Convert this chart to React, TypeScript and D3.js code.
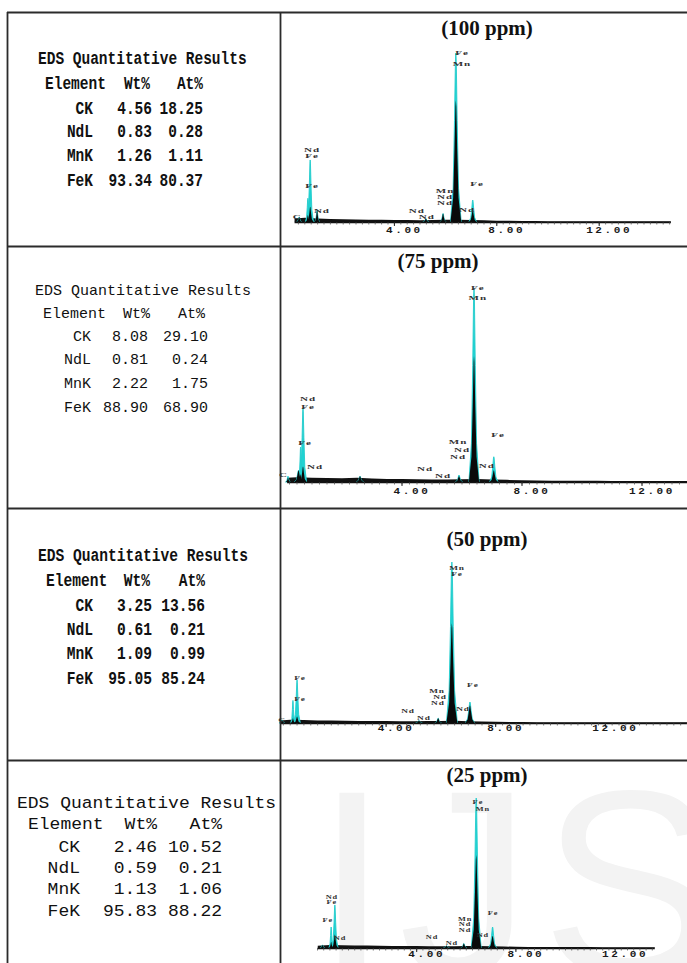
import React from "react";
import * as d3 from "d3";

// ---------- data ----------
const concentrations = ["(100 ppm)", "(75 ppm)", "(50 ppm)", "(25 ppm)"];
const elements = ["CK", "NdL", "MnK", "FeK"];
const wt100 = [4.56, 0.83, 1.26, 93.34];
const at100 = [18.25, 0.28, 1.11, 80.37];
const wt75 = [8.08, 0.81, 2.22, 88.9];
const at75 = [29.1, 0.24, 1.75, 68.9];
const wt50 = [3.25, 0.61, 1.09, 95.05];
const at50 = [13.56, 0.21, 0.99, 85.24];
const wt25 = [2.46, 0.59, 1.13, 95.83];
const at25 = [10.52, 0.21, 1.06, 88.22];
const tickValues = [4, 8, 12];
const tickLabels = ["4.00", "8.00", "12.00"];

// peaks: energy (keV), cyan height, black height (% of Fe Ka), half width (keV)
const peaks100 = [
  { e: 0.28, h: 3, hb: 3, w: 0.1 },
  { e: 0.62, h: 14, hb: 4, w: 0.1 },
  { e: 0.71, h: 36.7, hb: 9, w: 0.13 },
  { e: 0.98, h: 7, hb: 7, w: 0.1 },
  { e: 5.23, h: 2, hb: 2, w: 0.12 },
  { e: 5.9, h: 5, hb: 5, w: 0.12 },
  { e: 6.4, h: 100, hb: 72, w: 0.21 },
  { e: 7.06, h: 13, hb: 7, w: 0.15 },
];
const peaks75 = [
  { e: 0.2, h: 3, hb: 2, w: 0.08 },
  { e: 0.55, h: 6, hb: 6, w: 0.14 },
  { e: 0.7, h: 38, hb: 8, w: 0.12 },
  { e: 0.62, h: 18, hb: 4, w: 0.08 },
  { e: 2.6, h: 3, hb: 3, w: 0.12 },
  { e: 5.9, h: 3.6, hb: 3, w: 0.12 },
  { e: 6.4, h: 100, hb: 65, w: 0.17 },
  { e: 7.06, h: 13, hb: 6, w: 0.14 },
];
const peaks50 = [
  { e: 0.2, h: 2, hb: 2, w: 0.1 },
  { e: 0.6, h: 14, hb: 3, w: 0.08 },
  { e: 0.75, h: 26.7, hb: 4, w: 0.12 },
  { e: 5.2, h: 1.5, hb: 1.5, w: 0.12 },
  { e: 5.9, h: 3, hb: 3, w: 0.12 },
  { e: 6.4, h: 100, hb: 62, w: 0.2 },
  { e: 7.06, h: 13, hb: 11, w: 0.17 },
];
const peaks25 = [
  { e: 0.2, h: 2, hb: 2, w: 0.1 },
  { e: 0.55, h: 14, hb: 4, w: 0.09 },
  { e: 0.7, h: 28.7, hb: 9, w: 0.13 },
  { e: 5.2, h: 1.5, hb: 1.5, w: 0.12 },
  { e: 5.9, h: 3, hb: 3, w: 0.12 },
  { e: 6.4, h: 100, hb: 62, w: 0.2 },
  { e: 7.06, h: 14, hb: 8, w: 0.16 },
];

// background continuum, every 0.5 keV from 0 to 15 keV (% of Fe Ka)
const bg100 = [2, 2.5, 2, 1.8, 1.6, 1.5, 1.4, 1.3, 1.2, 1.2, 1.1, 1.2, 1.3, 1.4, 1.2, 1, 0.8, 0.7, 0.6, 0.6, 0.5, 0.5, 0.5, 0.5, 0.5, 0.4, 0.4, 0.4, 0.4, 0.4, 0.4];
const bg75 = [2, 2.5, 2.2, 2, 1.9, 2.2, 1.8, 1.6, 1.5, 1.4, 1.3, 1.3, 1.4, 1.5, 1.3, 1.1, 0.9, 0.8, 0.7, 0.6, 0.6, 0.6, 0.5, 0.5, 0.5, 0.5, 0.5, 0.5, 0.4, 0.4, 0.4];
const bg50 = [1.5, 2, 1.8, 1.6, 1.5, 1.4, 1.3, 1.2, 1.2, 1.1, 1.1, 1.2, 1.3, 1.4, 1.1, 0.9, 0.7, 0.6, 0.6, 0.5, 0.5, 0.5, 0.5, 0.4, 0.4, 0.4, 0.4, 0.4, 0.4, 0.4, 0.4];
const bg25 = [1.5, 2, 1.8, 1.7, 1.6, 1.5, 1.4, 1.3, 1.3, 1.2, 1.2, 1.2, 1.3, 1.4, 1.2, 1, 0.8, 0.7, 0.7, 0.6, 0.6, 0.6, 0.6, 0.5, 0.5, 0.5, 0.5, 0.5, 0.5, 0.5, 0.5];

// peak labels: text, energy, height (% of Fe Ka)
const labels100 = [
  { t: "Fe", e: 6.64, v: 100 }, { t: "Mn", e: 6.64, v: 93.5 },
  { t: "Nd", e: 0.78, v: 42.6 }, { t: "Fe", e: 0.78, v: 39 },
  { t: "Fe", e: 0.78, v: 21.3 }, { t: "Nd", e: 1.17, v: 6.5 },
  { t: "C", e: 0.2, v: 3 }, { t: "Nd", e: 4.88, v: 6.5 }, { t: "Nd", e: 5.27, v: 3 },
  { t: "Mn", e: 5.98, v: 18.3 }, { t: "Nd", e: 5.98, v: 14.8 }, { t: "Nd", e: 5.98, v: 11.2 },
  { t: "Fe", e: 7.23, v: 22.5 }, { t: "Nd", e: 6.84, v: 7.1 },
];
const labels75 = [
  { t: "Fe", e: 6.53, v: 100 }, { t: "Mn", e: 6.53, v: 94.8 },
  { t: "Nd", e: 0.87, v: 42.8 }, { t: "Fe", e: 0.87, v: 38.7 },
  { t: "Fe", e: 0.77, v: 20.1 }, { t: "Nd", e: 1.1, v: 7.7 },
  { t: "Mn", e: 5.87, v: 20.6 }, { t: "Nd", e: 6.0, v: 16.5 }, { t: "Nd", e: 5.87, v: 12.9 },
  { t: "Fe", e: 7.2, v: 24.2 }, { t: "Nd", e: 6.83, v: 8.2 },
  { t: "Nd", e: 4.77, v: 6.7 }, { t: "Nd", e: 5.37, v: 3.1 }, { t: "C", e: 0.05, v: 3.6 },
];
const labels50 = [
  { t: "Mn", e: 6.59, v: 96.3 }, { t: "Fe", e: 6.59, v: 92.5 },
  { t: "Fe", e: 0.86, v: 28 }, { t: "Fe", e: 0.86, v: 14.9 },
  { t: "Mn", e: 5.86, v: 19.9 }, { t: "Nd", e: 5.97, v: 16.1 }, { t: "Nd", e: 5.89, v: 12.4 },
  { t: "Fe", e: 7.17, v: 23.6 }, { t: "Nd", e: 6.81, v: 8.7 },
  { t: "Nd", e: 4.8, v: 7.5 }, { t: "Nd", e: 5.38, v: 3.1 }, { t: "C", e: 0.2, v: 1.9 },
];
const labels25 = [
  { t: "Fe", e: 6.47, v: 97.3 }, { t: "Mn", e: 6.67, v: 92.7 },
  { t: "Nd", e: 0.58, v: 34 }, { t: "Fe", e: 0.58, v: 30.7 },
  { t: "Fe", e: 0.42, v: 18.7 }, { t: "Nd", e: 0.91, v: 6.7 },
  { t: "Mn", e: 5.95, v: 19.3 }, { t: "Nd", e: 5.95, v: 16 }, { t: "Nd", e: 5.95, v: 12 },
  { t: "Fe", e: 7.08, v: 23.3 }, { t: "Nd", e: 6.67, v: 8.7 },
  { t: "Nd", e: 4.62, v: 7.3 }, { t: "Nd", e: 5.42, v: 3.3 },
];

// ---------- layout ----------
const W = 687;
const H = 963;
const GX0 = 7;
const GX1 = 280;
const rowLines = [12, 246, 508, 760];
const MONO = "'Courier New', Courier, 'Nimbus Mono PS', 'Nimbus Mono L', FreeMono, 'Liberation Mono', monospace";

const spectra = [
  { peaks: peaks100, bg: bg100, labels: labels100, x0: 292, k: 25.6, from: 0.1, to: 14.8, base: 222, top: 53, titleX: 487, titleY: 35, tickY: 233, fs: 6.5, sx: 1.7 },
  { peaks: peaks75, bg: bg75, labels: labels75, x0: 282, k: 30, from: 0.17, to: 13.5, base: 482, top: 288, titleX: 438, titleY: 268, tickY: 494, fs: 6.5, sx: 1.7 },
  { peaks: peaks50, bg: bg50, labels: labels50, x0: 276.5, k: 27.4, from: 0.13, to: 14.98, base: 723, top: 562, titleX: 487, titleY: 546, tickY: 731, fs: 5.8, sx: 1.6 },
  { peaks: peaks25, bg: bg25, labels: labels25, x0: 317.5, k: 24.8, from: 0, to: 13.6, base: 948, top: 798, titleX: 487, titleY: 782, tickY: 957, fs: 5.2, sx: 1.6 },
];

const tables = [
  { wt: wt100, at: at100, tx: 38, ys: [58, 83, 108, 131, 155, 180], fs: 14.5, sy: 1.22, bold: true, hx: 45, hw: 150, ha: 203, ee: 93, we: 152, ae: 203 },
  { wt: wt75, at: at75, tx: 35, ys: [290, 313, 336, 359, 383, 407], fs: 15, sy: 1.0, bold: false, hx: 43, hw: 150, ha: 205, ee: 91, we: 148, ae: 208 },
  { wt: wt50, at: at50, tx: 38, ys: [555, 580, 605, 629, 653, 678], fs: 14.6, sy: 1.22, bold: true, hx: 46, hw: 150, ha: 205, ee: 93, we: 152, ae: 205 },
  { wt: wt25, at: at25, tx: 17, ys: [803, 824, 847, 868, 889, 911], fs: 18, sy: 0.92, bold: false, hx: 28, hw: 157, ha: 222, ee: 80, we: 157, ae: 222 },
];

const BG_STEP = 0.5;

function Spectrum({ cfg }: { cfg: any }) {
  const x = d3.scaleLinear().domain([0, 15]).range([cfg.x0, cfg.x0 + 15 * cfg.k]);
  const y = d3.scaleLinear().domain([0, 100]).range([cfg.base, cfg.top]);
  const peakShape = (p: any, hh: number) =>
    [
      [p.e - p.w, 0],
      [p.e - 0.5 * p.w, 0.2 * hh],
      [p.e - 0.25 * p.w, 0.6 * hh],
      [p.e - 0.08 * p.w, 0.95 * hh],
      [p.e, hh],
      [p.e + 0.08 * p.w, 0.95 * hh],
      [p.e + 0.25 * p.w, 0.6 * hh],
      [p.e + 0.5 * p.w, 0.2 * hh],
      [p.e + p.w, 0],
    ] as [number, number][];
  const area = d3
    .area<[number, number]>()
    .x((d) => x(d[0]))
    .y0(y(0))
    .y1((d) => y(d[1]));
  const bgPts = (cfg.bg as number[])
    .map((v, i) => [i * BG_STEP, v] as [number, number])
    .filter((d) => d[0] >= cfg.from - 0.5 && d[0] <= cfg.to + 0.5);
  const minor = d3.range(Math.ceil(cfg.from / 0.25) * 0.25, cfg.to, 0.25);
  return (
    <g>
      <clipPath id={`clip${cfg.base}`}>
        <rect x={x(cfg.from)} y={cfg.top - 30} width={x(cfg.to) - x(cfg.from)} height={cfg.base - cfg.top + 40} />
      </clipPath>
      <g clipPath={`url(#clip${cfg.base})`}>
        <path d={area(bgPts) || ""} fill="#111" />
      </g>
      {(cfg.peaks as any[]).map((p, i) => (
        <path key={"c" + i} d={area(peakShape(p, p.h)) || ""} fill="#1fd3d3" stroke="#22cccc" strokeWidth={0.9} />
      ))}
      {(cfg.peaks as any[]).map((p, i) => (
        <path key={"b" + i} d={area(peakShape(p, p.hb)) || ""} fill="#0a0a0a" />
      ))}
      <line x1={x(cfg.from)} x2={x(cfg.to)} y1={cfg.base + 0.5} y2={cfg.base + 0.5} stroke="#111" strokeWidth={1.6} />
      {minor.map((t, i) => (
        <line key={"m" + i} x1={x(t)} x2={x(t)} y1={cfg.base} y2={cfg.base + 2.5} stroke="#444" strokeWidth={0.7} />
      ))}
      {tickValues.map((t, i) => (
        <g key={"t" + i}>
          <line x1={x(t)} x2={x(t)} y1={cfg.base} y2={cfg.base + 4} stroke="#222" strokeWidth={1} />
          <text
            transform={`translate(${x(t) + 10},${cfg.tickY}) scale(1.3,1)`}
            textAnchor="middle"
            fontFamily="Liberation Mono"
            fontWeight="bold"
            fontSize={8.5}
            letterSpacing={2}
            fill="#1a1a1a"
          >
            {tickLabels[i]}
          </text>
        </g>
      ))}
      {(cfg.labels as any[]).map((l, i) => (
        <text
          key={"l" + i}
          transform={`translate(${x(l.e)},${y(l.v)}) scale(${cfg.sx},1)`}
          dominantBaseline="central"
          textAnchor="middle"
          fontFamily="Liberation Serif"
          fontWeight="bold"
          fontSize={cfg.fs}
          letterSpacing={0.6}
          fill="#333"
        >
          {l.t}
        </text>
      ))}
    </g>
  );
}

function Table({ cfg }: { cfg: any }) {
  const fw = cfg.bold ? "bold" : "normal";
  const capOff = 0.33 * cfg.fs * cfg.sy;
  const T = ({ x, y, anchor, children }: any) => (
    <text
      transform={`translate(${x},${y + capOff}) scale(1,${cfg.sy})`}
      textAnchor={anchor}
      fontFamily={MONO}
      fontWeight={fw}
      fontSize={cfg.fs}
      fill="#111"
    >
      {children}
    </text>
  );
  return (
    <g>
      <T x={cfg.tx} y={cfg.ys[0]} anchor="start">EDS Quantitative Results</T>
      <T x={cfg.hx} y={cfg.ys[1]} anchor="start">Element</T>
      <T x={cfg.hw} y={cfg.ys[1]} anchor="end">Wt%</T>
      <T x={cfg.ha} y={cfg.ys[1]} anchor="end">At%</T>
      {elements.map((el, i) => (
        <g key={el}>
          <T x={cfg.ee} y={cfg.ys[i + 2]} anchor="end">{el}</T>
          <T x={cfg.we} y={cfg.ys[i + 2]} anchor="end">{(cfg.wt[i] as number).toFixed(2)}</T>
          <T x={cfg.ae} y={cfg.ys[i + 2]} anchor="end">{(cfg.at[i] as number).toFixed(2)}</T>
        </g>
      ))}
    </g>
  );
}

export default function App() {
  return (
    <svg
      width={W}
      height={H}
      style={{ position: "absolute", left: 0, top: 0, background: "#fff" }}
    >
      <rect x={0} y={0} width={W} height={H} fill="#fff" />
      <clipPath id="wm">
        <rect x={GX1 + 1} y={rowLines[3] + 1} width={W - GX1} height={H - rowLines[3]} />
      </clipPath>
      <g clipPath="url(#wm)">
        <text
          x={315}
          y={975}
          fontFamily="Liberation Sans"
          fontSize={265}
          letterSpacing={10}
          fill="#f3f3f3"
        >
          IJS
        </text>
      </g>
      {spectra.map((s, i) => (
        <g key={i}>
          <Spectrum cfg={s} />
          <text
            x={s.titleX}
            y={s.titleY}
            textAnchor="middle"
            fontFamily="Liberation Serif"
            fontWeight="bold"
            fontSize={21}
            fill="#111"
          >
            {concentrations[i]}
          </text>
        </g>
      ))}
      {tables.map((t, i) => (
        <Table key={i} cfg={t} />
      ))}
      {rowLines.map((yy, i) => (
        <line key={i} x1={GX0} x2={W} y1={yy + 0.5} y2={yy + 0.5} stroke="#2b2b2b" strokeWidth={1.8} />
      ))}
      <line x1={GX0 + 0.5} x2={GX0 + 0.5} y1={rowLines[0]} y2={H} stroke="#2b2b2b" strokeWidth={1.8} />
      <line x1={GX1 + 0.5} x2={GX1 + 0.5} y1={rowLines[0]} y2={H} stroke="#2b2b2b" strokeWidth={1.8} />
    </svg>
  );
}
